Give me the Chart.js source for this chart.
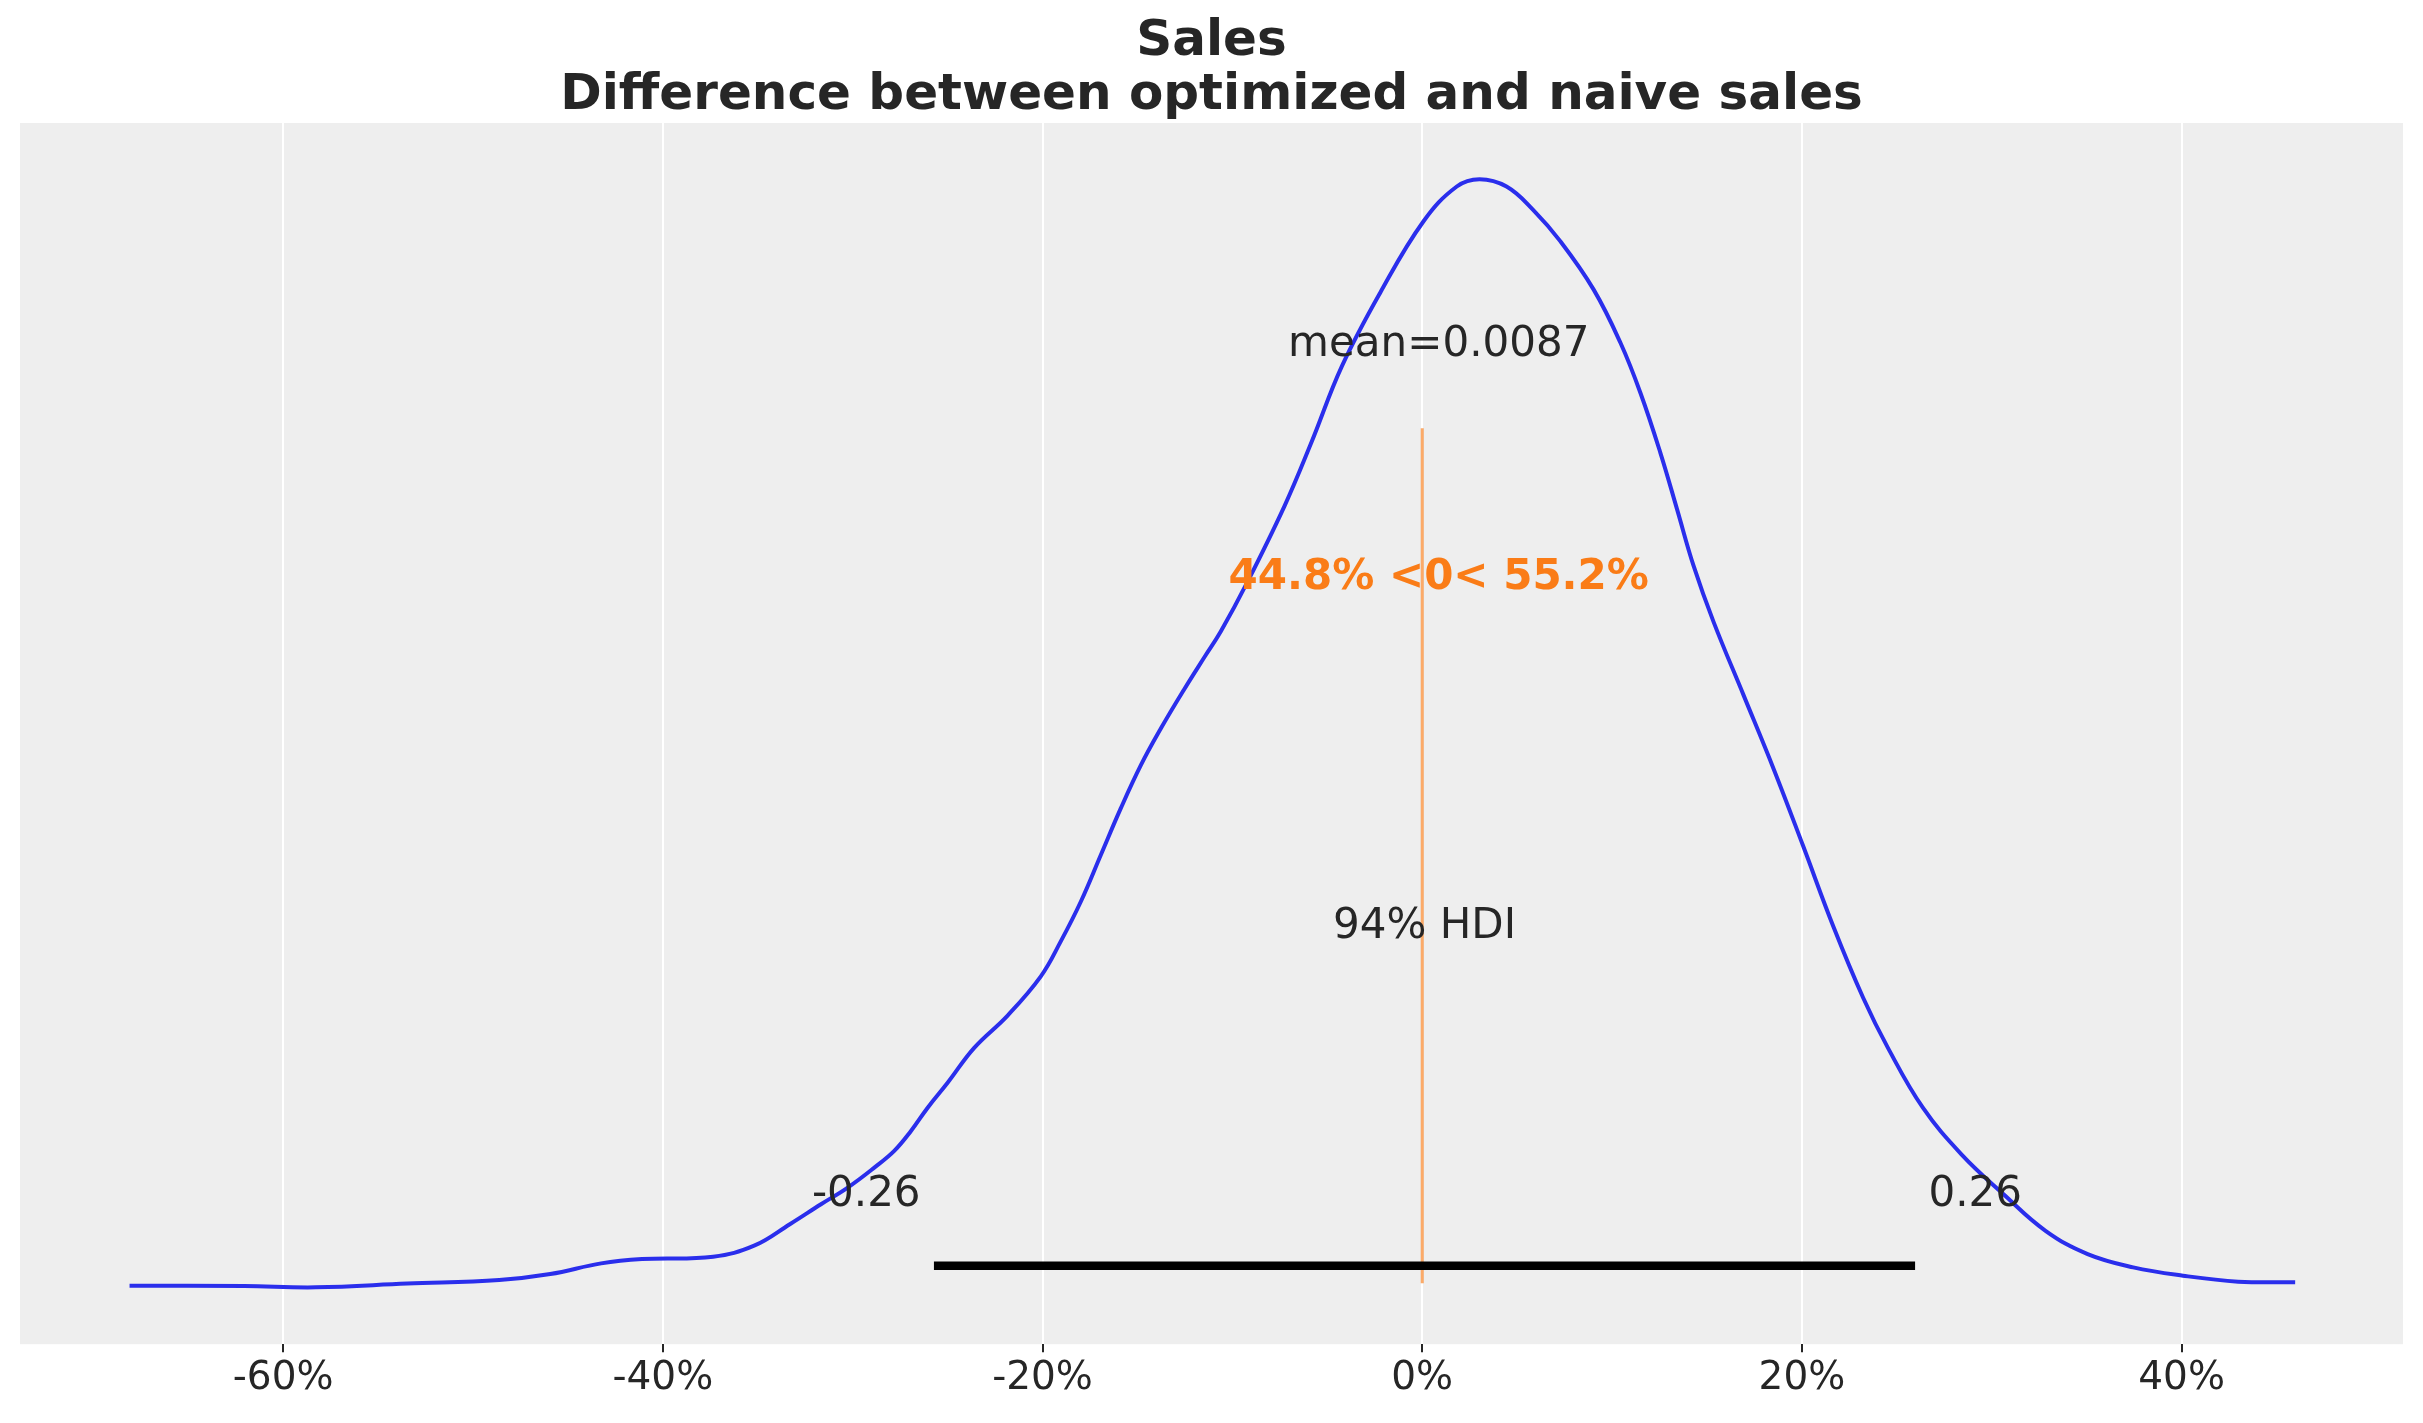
<!DOCTYPE html>
<html><head><meta charset="utf-8">
<script src="https://cdn.jsdelivr.net/npm/chart.js@4.4.1/dist/chart.umd.min.js"></script>
<style>html,body{margin:0;padding:0;background:#fff}#wrap{width:2423px;height:1423px;position:relative}</style>
</head><body><div id="wrap"><canvas id="c"></canvas></div>
<script>
// ---- data ----
const kdeX = [-0.6809,-0.6204,-0.5828,-0.5346,-0.4862,-0.4593,-0.4325,-0.4110,-0.3735,-0.3519,-0.3331,-0.3167,-0.3026,-0.2886,-0.2781,-0.2693,-0.2605,-0.2500,-0.2360,-0.2184,-0.2009,-0.1904,-0.1798,-0.1693,-0.1588,-0.1482,-0.1377,-0.1255,-0.1146,-0.1062,-0.0926,-0.0725,-0.0584,-0.0423,-0.0222,0.0006,0.0182,0.0302,0.0444,0.0584,0.0728,0.0903,0.1044,0.1149,0.1254,0.1342,0.1429,0.1535,0.1693,0.1851,0.2005,0.2166,0.2323,0.2453,0.2637,0.2840,0.3062,0.3283,0.3505,0.3745,0.4007,0.4298,0.4598];
const kdeY = [0.0057,0.0047,0.0013,0.0110,0.0204,0.0360,0.0640,0.0752,0.0814,0.1102,0.1665,0.2187,0.2623,0.3145,0.3581,0.4103,0.4712,0.5364,0.6278,0.7123,0.8149,0.9063,1.0107,1.1323,1.2542,1.3673,1.4631,1.5649,1.6510,1.7163,1.8416,2.0460,2.2115,2.4114,2.6030,2.7899,2.8813,2.9005,2.8813,2.8204,2.7377,2.6116,2.4725,2.3419,2.1853,2.0373,1.8893,1.7416,1.5500,1.3576,1.1577,0.9447,0.7583,0.6278,0.4712,0.3493,0.2448,0.1493,0.0882,0.0535,0.0318,0.0162,0.0144];
const hdiBounds = [-0.2572, 0.2596];
const hdiLabels = ['-0.26', '0.26'];
const hdiProbLabel = '94% HDI';
const meanValue = 0.0087;
const refValue = 0;
const refBelowPct = '44.8%';
const refAbovePct = '55.2%';
const xTickValues = [-0.6, -0.4, -0.2, 0, 0.2, 0.4];
const xTickLabels = ['-60%', '-40%', '-20%', '0%', '20%', '40%'];
const titleLines = ['Sales', 'Difference between optimized and naive sales'];

// ---- axis limits (matplotlib-like 5% margins) ----
const xLim = [-0.7386, 0.5166];
const yLim = [-0.1475, 3.0475];
const peak = Math.max(...kdeY);
const hdiLineY = 0.02 * peak;
const frac = f => yLim[0] + f * (yLim[1] - yLim[0]);

const TEXT = '#262626';
const FONT = '"DejaVu Sans", "Liberation Sans", sans-serif';

const annot = {
  id: 'annot',
  beforeDraw(chart) {
    const {ctx, chartArea: a, width, height} = chart;
    ctx.save();
    ctx.fillStyle = '#ffffff';
    ctx.fillRect(0, 0, width, height);
    ctx.fillStyle = '#eeeeee';
    ctx.fillRect(a.left, a.top, a.right - a.left, a.bottom - a.top);
    ctx.restore();
  },
  afterDatasetsDraw(chart) {
    const {ctx, scales: {x, y}} = chart;
    const ym = yLim[1];
    ctx.save();
    ctx.textBaseline = 'alphabetic';
    ctx.font = '42px ' + FONT;
    ctx.fillStyle = TEXT;
    ctx.textAlign = 'center';
    ctx.fillText('mean=' + meanValue, x.getPixelForValue(meanValue), y.getPixelForValue(0.8 * ym));
    ctx.fillText(hdiProbLabel, x.getPixelForValue((hdiBounds[0] + hdiBounds[1]) / 2), y.getPixelForValue(0.3 * ym));
    ctx.textAlign = 'right';
    ctx.fillText(hdiLabels[0] + ' ', x.getPixelForValue(hdiBounds[0]), y.getPixelForValue(0.07 * ym));
    ctx.textAlign = 'left';
    ctx.fillText(' ' + hdiLabels[1], x.getPixelForValue(hdiBounds[1]), y.getPixelForValue(0.07 * ym));
    ctx.font = 'bold 42px ' + FONT;
    ctx.fillStyle = '#fa7c17';
    ctx.textAlign = 'center';
    ctx.fillText(refBelowPct + ' <' + refValue + '< ' + refAbovePct, x.getPixelForValue(meanValue), y.getPixelForValue(0.6 * ym));
    ctx.restore();
  }
};

const curve = kdeX.map((v, i) => ({x: v, y: kdeY[i]}));

new Chart(document.getElementById('c'), {
  type: 'line',
  data: {
    datasets: [
      {
        data: hdiBounds.map(v => ({x: v, y: hdiLineY})),
        borderColor: '#000000', borderWidth: 8.5, borderCapStyle: 'butt',
        pointRadius: 0, tension: 0, order: 1
      },
      {
        data: [{x: refValue, y: frac(0.05)}, {x: refValue, y: frac(0.75)}],
        borderColor: 'rgba(250,124,23,0.65)', borderWidth: 3, borderCapStyle: 'butt',
        pointRadius: 0, tension: 0, order: 2
      },
      {
        data: curve,
        borderColor: '#2a2eec', borderWidth: 4,
        pointRadius: 0, tension: 0.4, order: 3
      }
    ]
  },
  options: {
    responsive: true, maintainAspectRatio: false, animation: false, devicePixelRatio: 1,
    layout: {padding: {left: 20, right: 20, top: 0, bottom: 18}},
    plugins: {
      legend: {display: false}, tooltip: {enabled: false},
      title: {
        display: true, text: titleLines, color: TEXT,
        font: {family: FONT, size: 50, weight: 'bold', lineHeight: 1.08},
        padding: {top: 15, bottom: 0}
      }
    },
    scales: {
      x: {
        type: 'linear', min: xLim[0], max: xLim[1],
        afterBuildTicks: s => { s.ticks = xTickValues.map(v => ({value: v})); },
        ticks: {
          color: TEXT, font: {family: FONT, size: 39}, padding: 3,
          callback: (v) => { const i = xTickValues.findIndex(t => Math.abs(t - v) < 1e-9); return i >= 0 ? xTickLabels[i] : ''; }
        },
        grid: {color: '#ffffff', lineWidth: 2, drawTicks: true, tickLength: 8, tickColor: TEXT, tickWidth: 2},
        border: {display: false}
      },
      y: {
        type: 'linear', min: yLim[0], max: yLim[1], display: false
      }
    }
  },
  plugins: [annot]
});
</script>
</body></html>
